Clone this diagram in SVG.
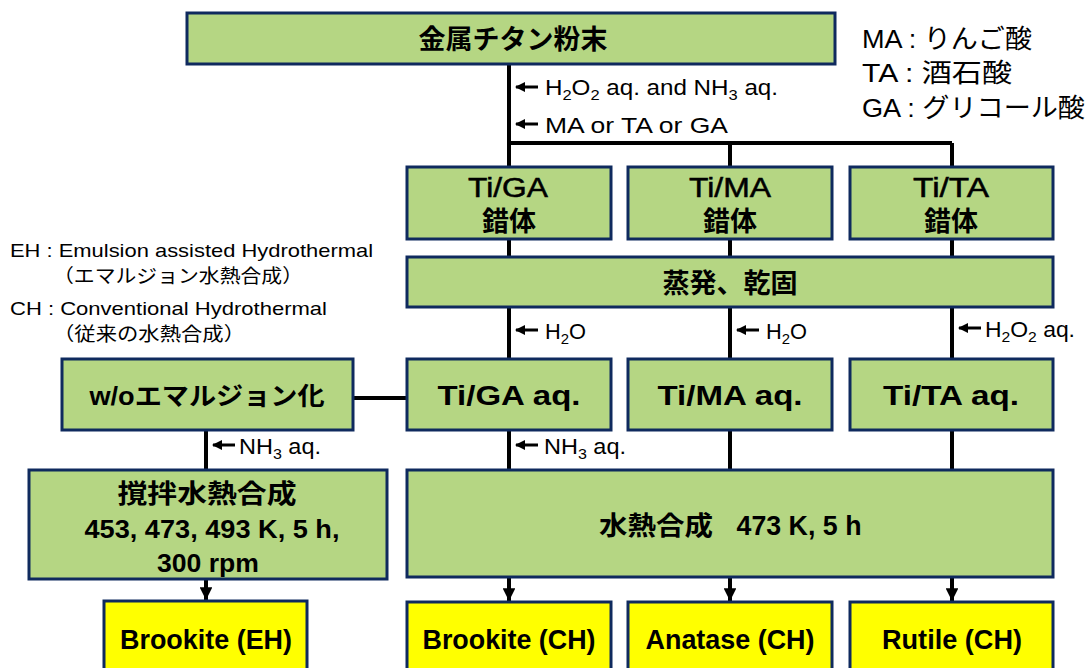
<svg xmlns="http://www.w3.org/2000/svg" width="1089" height="668" viewBox="0 0 1089 668">
  <style>
    .box { fill: #b5d683; stroke: #0f2a5e; stroke-width: 3; }
    .res { fill: #ffff00; stroke: #0f2a5e; stroke-width: 3; }
    .lbl { font-family: "Liberation Sans", "Noto Sans CJK JP", sans-serif; font-weight: bold; fill: #000; text-anchor: middle; }
    .thin { font-weight: normal; stroke: #000; stroke-width: 0.5; }
    .note { font-family: "Liberation Sans", "Noto Sans CJK JP", sans-serif; fill: #000; }
    .wire { stroke: #000; stroke-width: 4; fill: none; }
    .add { stroke: #000; stroke-width: 3; fill: none; }
  </style>
  <defs>
    <marker id="head" viewBox="0 0 10 10" refX="9" refY="5" markerWidth="3.4" markerHeight="3.4" orient="auto" markerUnits="strokeWidth">
      <path d="M0,0 L10,5 L0,10 z" fill="#000"/>
    </marker>
    <marker id="down" viewBox="0 0 10 10" refX="10" refY="5" markerWidth="3.2" markerHeight="3.2" orient="auto" markerUnits="strokeWidth">
      <path d="M0,0 L10,5 L0,10 z" fill="#000"/>
    </marker>
  </defs>

  <!-- connectors -->
  <g id="connectors">
    <path class="wire" d="M509,64 V167 M509,143 H952 M730,143 V167 M952,143 V167"/>
    <path class="wire" d="M509,239 V257 M730,239 V257 M952,239 V257"/>
    <path class="wire" d="M509,307 V359 M730,307 V359 M952,307 V359"/>
    <path class="wire" d="M353,398 H407"/>
    <path class="wire" d="M509,430 V470 M730,430 V470 M952,430 V470 M206,430 V470"/>
    <path class="wire" d="M509,577 V601" marker-end="url(#down)"/>
    <path class="wire" d="M730,577 V601" marker-end="url(#down)"/>
    <path class="wire" d="M952,577 V601" marker-end="url(#down)"/>
    <path class="wire" d="M206,579 V600" marker-end="url(#down)"/>
    <!-- reagent inlets -->
    <path class="add" d="M538,87 H516" marker-end="url(#head)"/>
    <path class="add" d="M538,124 H516" marker-end="url(#head)"/>
    <path class="add" d="M538,330 H516" marker-end="url(#head)"/>
    <path class="add" d="M759,330 H737" marker-end="url(#head)"/>
    <path class="add" d="M981,328 H959" marker-end="url(#head)"/>
    <path class="add" d="M538,445 H516" marker-end="url(#head)"/>
    <path class="add" d="M235,445 H213" marker-end="url(#head)"/>
  </g>

  <!-- reagent labels -->
  <g id="reagents" class="note" font-size="22">
    <text x="545" y="95" textLength="233" lengthAdjust="spacingAndGlyphs">H<tspan font-size="15" dy="5">2</tspan><tspan dy="-5">O</tspan><tspan font-size="15" dy="5">2</tspan><tspan dy="-5"> aq. and NH</tspan><tspan font-size="15" dy="5">3</tspan><tspan dy="-5"> aq.</tspan></text>
    <text x="545" y="133" textLength="183" lengthAdjust="spacingAndGlyphs">MA or TA or GA</text>
    <text x="545" y="339" textLength="41" lengthAdjust="spacingAndGlyphs">H<tspan font-size="15" dy="5">2</tspan><tspan dy="-5">O</tspan></text>
    <text x="766" y="339" textLength="41" lengthAdjust="spacingAndGlyphs">H<tspan font-size="15" dy="5">2</tspan><tspan dy="-5">O</tspan></text>
    <text x="985" y="337" textLength="90" lengthAdjust="spacingAndGlyphs">H<tspan font-size="15" dy="5">2</tspan><tspan dy="-5">O</tspan><tspan font-size="15" dy="5">2</tspan><tspan dy="-5"> aq.</tspan></text>
    <text x="544" y="454" textLength="82" lengthAdjust="spacingAndGlyphs">NH<tspan font-size="15" dy="5">3</tspan><tspan dy="-5"> aq.</tspan></text>
    <text x="239" y="454" textLength="82" lengthAdjust="spacingAndGlyphs">NH<tspan font-size="15" dy="5">3</tspan><tspan dy="-5"> aq.</tspan></text>
  </g>

  <!-- abbreviations -->
  <g id="legend-acids" class="note" font-size="26">
    <text x="862" y="48" textLength="170" lengthAdjust="spacingAndGlyphs">MA : りんご酸</text>
    <text x="862" y="82" textLength="150" lengthAdjust="spacingAndGlyphs">TA : 酒石酸</text>
    <text x="862" y="117" textLength="223" lengthAdjust="spacingAndGlyphs">GA : グリコール酸</text>
  </g>
  <g id="legend-methods" class="note" font-size="19">
    <text x="10" y="257" textLength="363" lengthAdjust="spacingAndGlyphs">EH : Emulsion assisted Hydrothermal</text>
    <text x="53" y="283" textLength="250" lengthAdjust="spacingAndGlyphs">（エマルジョン水熱合成）</text>
    <text x="10" y="315" textLength="317" lengthAdjust="spacingAndGlyphs">CH : Conventional Hydrothermal</text>
    <text x="53" y="341" textLength="192" lengthAdjust="spacingAndGlyphs">（従来の水熱合成）</text>
  </g>

  <g id="powder">
    <rect class="box" x="187" y="13" width="648" height="51"/>
    <text class="lbl" x="513" y="49" font-size="27">金属チタン粉末</text>
  </g>

  <g id="complex-ga">
    <rect class="box" x="407" y="167" width="204" height="72"/>
    <text class="lbl thin" x="508" y="197" font-size="27" textLength="80" lengthAdjust="spacingAndGlyphs">Ti/GA</text>
    <text class="lbl" x="509" y="231" font-size="27">錯体</text>
  </g>
  <g id="complex-ma">
    <rect class="box" x="628" y="167" width="204" height="72"/>
    <text class="lbl thin" x="730" y="197" font-size="27" textLength="82" lengthAdjust="spacingAndGlyphs">Ti/MA</text>
    <text class="lbl" x="730" y="231" font-size="27">錯体</text>
  </g>
  <g id="complex-ta">
    <rect class="box" x="850" y="167" width="203" height="72"/>
    <text class="lbl thin" x="951" y="197" font-size="27" textLength="76" lengthAdjust="spacingAndGlyphs">Ti/TA</text>
    <text class="lbl" x="951" y="231" font-size="27">錯体</text>
  </g>

  <g id="evaporate">
    <rect class="box" x="407" y="257" width="646" height="50"/>
    <text class="lbl" x="730" y="293" font-size="27">蒸発、乾固</text>
  </g>

  <g id="no-emulsion">
    <rect class="box" x="62" y="359" width="291" height="71"/>
    <text class="lbl" x="207" y="405" font-size="25" textLength="235" lengthAdjust="spacingAndGlyphs">w/oエマルジョン化</text>
  </g>
  <g id="aq-ga">
    <rect class="box" x="407" y="359" width="204" height="71"/>
    <text class="lbl" x="509" y="405" font-size="27" textLength="143" lengthAdjust="spacingAndGlyphs">Ti/GA aq.</text>
  </g>
  <g id="aq-ma">
    <rect class="box" x="628" y="359" width="204" height="71"/>
    <text class="lbl" x="730" y="405" font-size="27" textLength="145" lengthAdjust="spacingAndGlyphs">Ti/MA aq.</text>
  </g>
  <g id="aq-ta">
    <rect class="box" x="850" y="359" width="203" height="71"/>
    <text class="lbl" x="951" y="405" font-size="27" textLength="136" lengthAdjust="spacingAndGlyphs">Ti/TA aq.</text>
  </g>

  <g id="stirred">
    <rect class="box" x="29" y="470" width="358" height="109"/>
    <text class="lbl" x="207" y="503" font-size="26" textLength="179" lengthAdjust="spacingAndGlyphs">撹拌水熱合成</text>
    <text class="lbl" x="212" y="538" font-size="26" textLength="255" lengthAdjust="spacingAndGlyphs">453, 473, 493 K, 5 h,</text>
    <text class="lbl" x="208" y="572" font-size="26" textLength="102" lengthAdjust="spacingAndGlyphs">300 rpm</text>
  </g>
  <g id="hydrothermal">
    <rect class="box" x="407" y="470" width="646" height="107"/>
    <text class="lbl" x="656" y="535" font-size="26" textLength="114" lengthAdjust="spacingAndGlyphs">水熱合成</text>
    <text class="lbl" x="799" y="535" font-size="27" textLength="125" lengthAdjust="spacingAndGlyphs">473 K, 5 h</text>
  </g>

  <g id="brookite-eh">
    <rect class="res" x="104" y="601" width="203" height="80"/>
    <text class="lbl" x="206" y="649" font-size="27" textLength="172" lengthAdjust="spacingAndGlyphs">Brookite (EH)</text>
  </g>
  <g id="brookite-ch">
    <rect class="res" x="407" y="602" width="204" height="80"/>
    <text class="lbl" x="509" y="649" font-size="27" textLength="173" lengthAdjust="spacingAndGlyphs">Brookite (CH)</text>
  </g>
  <g id="anatase-ch">
    <rect class="res" x="628" y="602" width="204" height="80"/>
    <text class="lbl" x="730" y="649" font-size="27" textLength="169" lengthAdjust="spacingAndGlyphs">Anatase (CH)</text>
  </g>
  <g id="rutile-ch">
    <rect class="res" x="850" y="602" width="203" height="80"/>
    <text class="lbl" x="952" y="649" font-size="27" textLength="140" lengthAdjust="spacingAndGlyphs">Rutile (CH)</text>
  </g>
</svg>
